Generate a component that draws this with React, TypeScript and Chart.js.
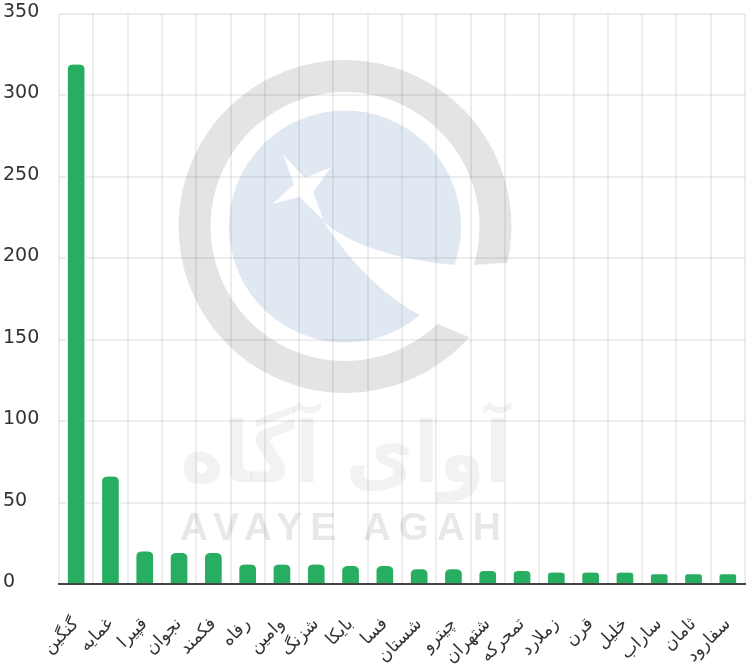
import React, { useEffect, useRef } from "react";
import { Chart, registerables } from "chart.js";

Chart.register(...registerables);

const categories = ["گنگین", "غمایه", "قپیرا", "نجوان", "فکمند", "رفاه", "وامین", "شزنگ", "بایکا", "فسا", "شستان", "چیترو", "شتهران", "تمحرکه", "زملارد", "قرن", "خلیل", "ساراب", "ثامان", "سفارود"];
const values = [319, 66, 20, 19, 19, 12, 12, 12, 11, 11, 9, 9, 8, 8, 7, 7, 7, 6, 6, 6];
const yTicks = [0, 50, 100, 150, 200, 250, 300, 350];

const watermark = {
  id: "watermark",
  beforeDatasetsDraw(chart: any) {
    const c = chart.ctx;
    const cx = 345;
    const cy = 226.5;
    const rad = (d: number) => (d * Math.PI) / 180;
    c.save();
    c.fillStyle = "rgba(0,0,0,0.105)";
    c.beginPath();
    c.arc(cx, cy, 166.5, rad(12.6), rad(41.7), true);
    c.arc(cx, cy, 134.5, rad(46.4), rad(16.6), false);
    c.closePath();
    c.fill();

    c.fillStyle = "rgba(50,100,160,0.15)";
    c.beginPath();
    c.arc(cx, cy, 116, rad(49.5), rad(19.4), false);
    c.quadraticCurveTo(365, 256.7, 323.3, 221.7);
    c.quadraticCurveTo(368.4, 288.3, 420, 315);
    c.closePath();
    c.moveTo(283.3, 155);
    c.lineTo(305, 177.7);
    c.lineTo(331, 167.3);
    c.lineTo(313.3, 191.7);
    c.lineTo(323.3, 220);
    c.lineTo(299.3, 196.7);
    c.lineTo(272.7, 204);
    c.lineTo(294, 184.3);
    c.closePath();
    c.fill("evenodd");

    c.fillStyle = "rgba(0,0,0,0.09)";
    c.textBaseline = "alphabetic";
    c.textAlign = "left";
    c.font = "bold 39px 'Liberation Sans'";
    (c as any).letterSpacing = "7.8px";
    c.fillText("AVAYE AGAH", 180, 540);
    (c as any).letterSpacing = "0px";

    c.fillStyle = "rgba(0,0,0,0.05)";
    c.font = "bold 84px 'DejaVu Sans'";
    c.direction = "rtl";
    c.textAlign = "right";
    c.translate(510, 482);
    c.scale(0.88, 1);
    c.fillText("آوای آگاه", 0, 0);
    c.restore();
  },
};

export default function App() {
  const ref = useRef<HTMLCanvasElement>(null);
  useEffect(() => {
    document.body.style.margin = "0";
    const chart = new Chart(ref.current!, {
      type: "bar",
      data: {
        labels: categories,
        datasets: [
          {
            data: values,
            backgroundColor: "#27ae60",
            borderColor: "#ffffff",
            borderWidth: { left: 2, right: 2, top: 0, bottom: 0 },
            borderRadius: { topLeft: 7, topRight: 7, bottomLeft: 0, bottomRight: 0 },
            borderSkipped: false,
            barThickness: 20,
          },
        ],
      },
      options: {
        responsive: false,
        animation: false,
        layout: { padding: { left: 3, right: 4, top: 14, bottom: 0 } },
        plugins: { legend: { display: false }, tooltip: { enabled: false }, title: { display: false } },
        scales: {
          x: {
            grid: { color: "rgba(0,0,0,0.07)", lineWidth: 2, drawTicks: false },
            border: { display: true, color: "#444444", width: 2, z: 1 },
            ticks: {
              autoSkip: false,
              minRotation: 45,
              maxRotation: 45,
              padding: 30,
              color: "#333333",
              font: { family: "'DejaVu Sans'", size: 17.5 },
            },
            afterFit: (s: any) => {
              s.height = 81;
              s.paddingLeft = 0;
              s.paddingRight = 0;
            },
          },
          y: {
            min: 0,
            max: 350,
            afterBuildTicks: (s: any) => {
              s.ticks = yTicks.map((v) => ({ value: v }));
            },
            grid: { color: "rgba(0,0,0,0.07)", lineWidth: 2, drawTicks: false },
            border: { display: false },
            ticks: {
              crossAlign: "far",
              padding: 0,
              color: "#333333",
              font: { family: "'DejaVu Sans'", size: 19, lineHeight: "4px" },
              callback: (v: any) => [String(v), ""],
            },
            afterFit: (s: any) => {
              s.width = 56;
            },
          },
        },
      },
      plugins: [watermark],
    } as any);
    return () => chart.destroy();
  }, []);
  return (
    <div style={{ width: 749, height: 665 }}>
      <canvas ref={ref} width={749} height={665} style={{ display: "block" }} />
    </div>
  );
}
